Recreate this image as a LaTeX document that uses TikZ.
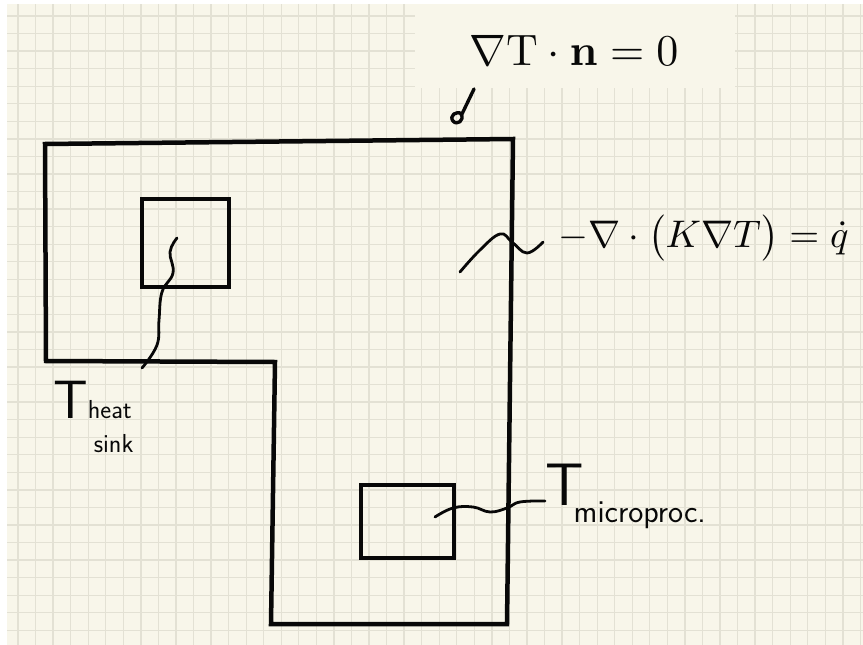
\documentclass[tikz,border=0pt]{standalone}
\usepackage{amsmath,amssymb}
\usepackage{graphicx}
\usepackage{tikz}
\usetikzlibrary{positioning,calc}
\definecolor{paper}{HTML}{F8F6EA}
\definecolor{gridln}{HTML}{E3E1D4}
\definecolor{ink}{HTML}{080808}
\tikzset{wall/.style={draw=ink,line width=4.5pt,line join=miter},chip/.style={draw=ink,line width=4pt,inner sep=0pt},squig/.style={draw=ink,line width=2.8pt,line cap=round,line join=round},hand/.style={font=\sffamily,text=ink,inner sep=0pt},gridline/.style={gridln,line width=1.3pt}}

\begin{document}
\begin{tikzpicture}[x=1pt,y=-1pt]
\useasboundingbox (0,0) rectangle (863,645);
\fill[white] (0,0) rectangle (863,645);
\fill[paper] (7,4) rectangle (863,645);
\foreach \k in {0,...,48}{\draw[gridline] ({18+17.55*\k},4)--({18+17.55*\k},645);}
\foreach \k in {0,...,35}{\draw[gridline] (7,{16+17.55*\k})--(863,{16+17.55*\k});}
\node[fill=paper,minimum width=320pt,minimum height=84pt,inner sep=0pt] (bc) at (575,46) {};
\node[text=ink,inner sep=0pt] (bceq) at ($(bc.center)+(-1,4)$) {\scalebox{4.4}{$\nabla\mathrm{T}\cdot\mathbf{n}=0$}};
% domain
\draw[wall] (45,144)--(513,139)--(507,624)--(271,624)--(275,362)--(46,361)--cycle;
\node[chip,minimum width=87pt,minimum height=88pt] (sink) at (185,243) {};
\node[chip,minimum width=93pt,minimum height=73pt] (cpu) at (407.5,521.5) {};
% labels
\node[inner sep=0pt,anchor=west,text=ink] (pde) at (558,238) {\scalebox{3.85}{$-\nabla\cdot\bigl(K\nabla T\bigr)=\dot q$}};
\node[hand,anchor=base west] (tsink) at (53,418) {\fontsize{54}{54}\selectfont T\kern0pt{\fontsize{26}{26}\selectfont\begin{tabular}[t]{@{}l@{}}heat\\[8pt]\hspace{6pt}sink\end{tabular}}};
\node[hand,anchor=base west] (tcpu) at (545,505) {\fontsize{60}{60}\selectfont T\kern-10pt\raisebox{-17pt}{\fontsize{32}{32}\selectfont microproc.}};
% squiggles
\coordinate (s0) at ($(sink.center)+(-8,-5)$);\coordinate (s1) at (142,368);
\coordinate (c0) at (435,517);\coordinate (c1) at ($(tcpu.base west)+(0,-4)$);
\coordinate (p0) at (460,272);\coordinate (p1) at (543,242);
\draw[squig] plot[smooth,tension=.7] coordinates {(s0) (170,252) (173,273) (162,292) (159,320) (157,345) (s1)};
\draw[squig] plot[smooth,tension=.7] coordinates {(c0) (453,508) (473,507) (490,512) (507,508) (520,502) (c1)};
\draw[squig] plot[smooth,tension=.7] coordinates {(p0) (480,250) (500,234) (512,242) (527,253) (p1)};
\draw[squig,line width=3.4pt] (474,89)--(462,114) .. controls (456,110) and (449,116) .. (453,121) .. controls (457,126) and (465,120) .. (461,114);
\end{tikzpicture}
\end{document}
